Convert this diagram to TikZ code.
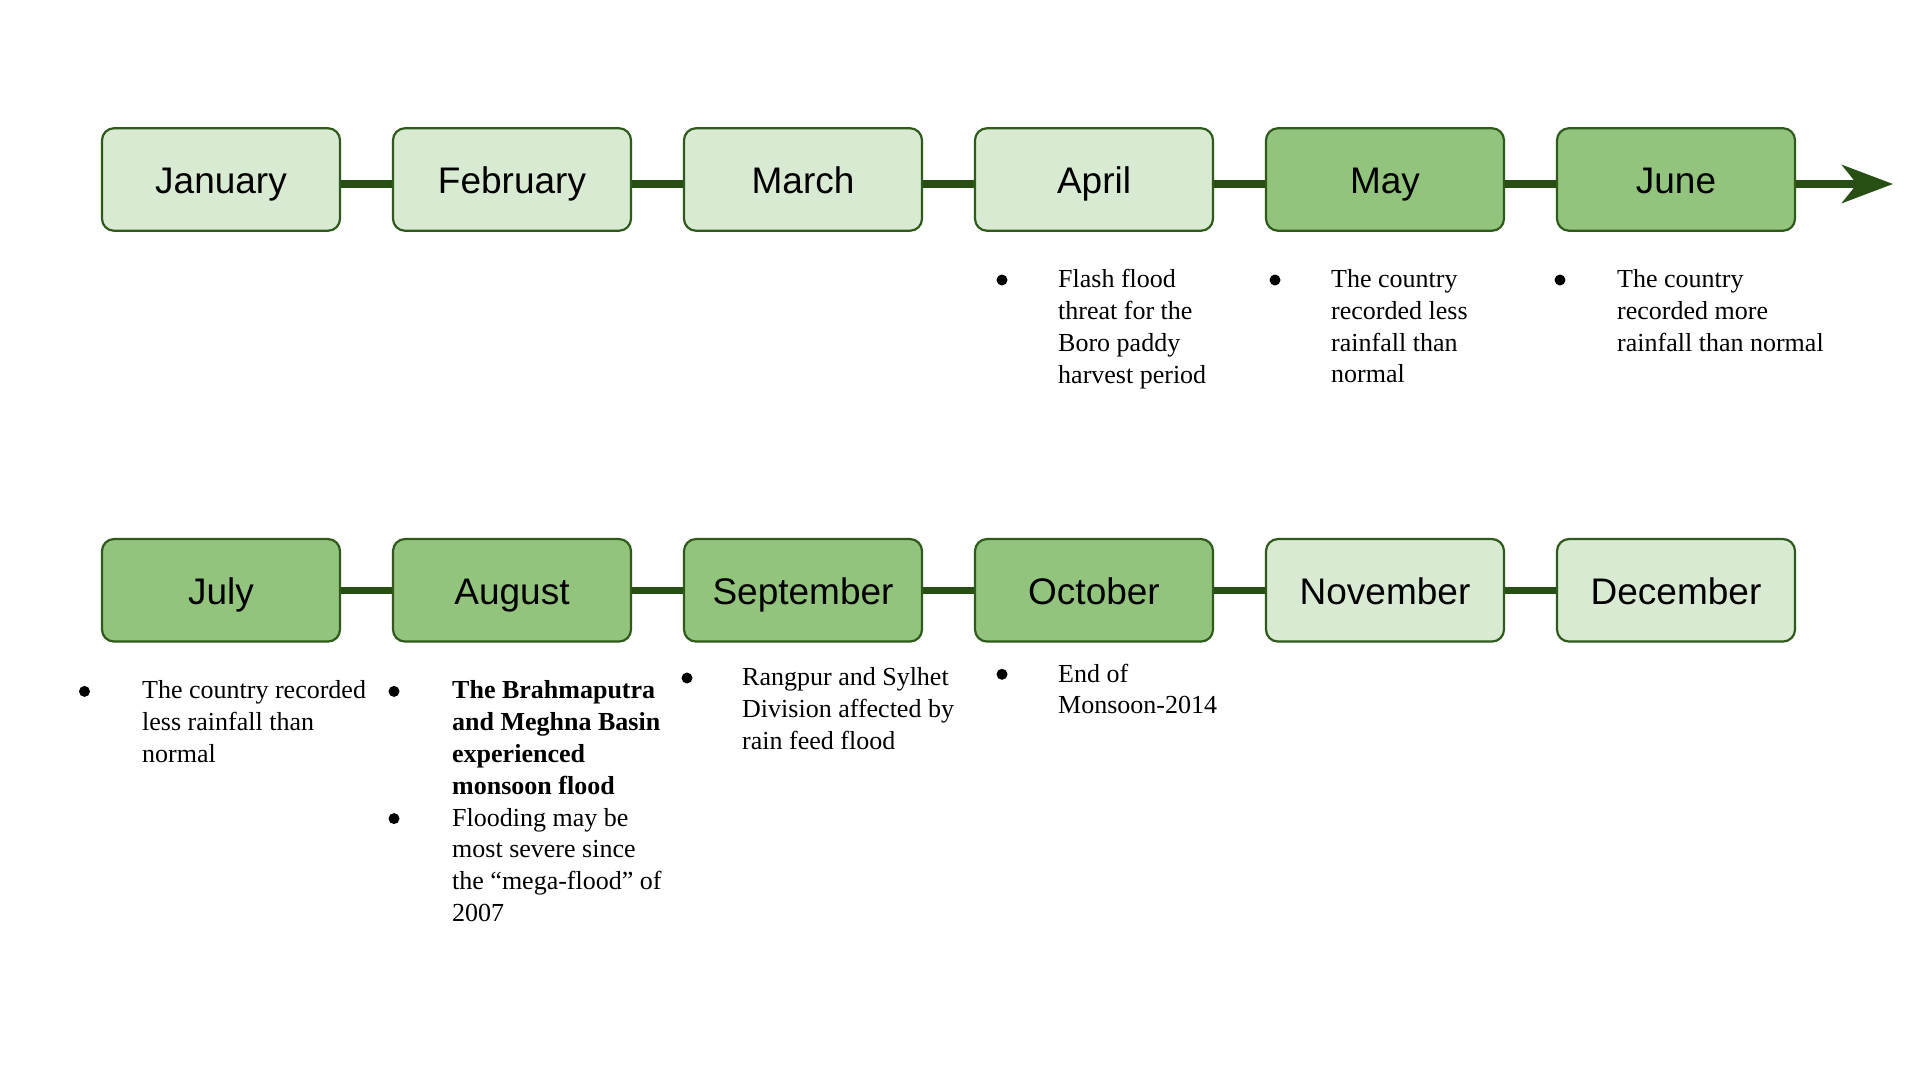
\documentclass[tikz,border=0pt]{standalone}
\usepackage{fontspec}
\setmainfont{Liberation Serif}
\newfontfamily\labelfont{Liberation Sans}
\usetikzlibrary{arrows.meta}
\definecolor{lightg}{HTML}{D9EAD3}
\definecolor{darkg}{HTML}{93C47D}
\definecolor{edgeg}{HTML}{2E5A1C}
\definecolor{lineg}{HTML}{274E13}
\tikzset{
  month/.style={draw=edgeg, line width=2.2pt, rounded corners=12pt,
    minimum width=238pt, minimum height=102.5pt, inner sep=0pt,
    text height=28pt, text depth=0pt,
    font=\labelfont\fontsize{37}{44}\selectfont},
  pale/.style={month, fill=lightg},
  deep/.style={month, fill=darkg},
  link/.style={draw=lineg, line width=7.5pt},
  note/.style={anchor=north west, inner sep=0pt, align=left,
    font=\fontsize{26}{31.8}\selectfont},
  dot/.style={circle, fill=black, inner sep=0pt, minimum size=11pt}
}
\begin{document}
\begin{tikzpicture}[x=1pt,y=-1pt]
\useasboundingbox[fill=white] (0,0) rectangle (1920,1080);
% top row
\node[pale] (jan) at (221,179.5) {January};
\node[pale] (feb) at (512,179.5) {February};
\node[pale] (mar) at (803,179.5) {March};
\node[pale] (apr) at (1094,179.5) {April};
\node[deep] (may) at (1385,179.5) {May};
\node[deep] (jun) at (1676,179.5) {June};
\coordinate (tip) at (1893,184);
\draw[link] ([yshift=-4.5pt]jan.east) -- ([yshift=-4.5pt]feb.west);
\draw[link] ([yshift=-4.5pt]feb.east) -- ([yshift=-4.5pt]mar.west);
\draw[link] ([yshift=-4.5pt]mar.east) -- ([yshift=-4.5pt]apr.west);
\draw[link] ([yshift=-4.5pt]apr.east) -- ([yshift=-4.5pt]may.west);
\draw[link] ([yshift=-4.5pt]may.east) -- ([yshift=-4.5pt]jun.west);
\draw[link, -{Stealth[length=51pt, width=38pt, inset=15pt]}] ([yshift=-4.5pt]jun.east) -- (tip);
% bottom row
\node[deep] (jul) at (221,590.3) {July};
\node[deep] (aug) at (512,590.3) {August};
\node[deep] (sep) at (803,590.3) {September};
\node[deep] (oct) at (1094,590.3) {October};
\node[pale] (nov) at (1385,590.3) {November};
\node[pale] (dec) at (1676,590.3) {December};
\draw[link] (jul) -- (aug);
\draw[link] (aug) -- (sep);
\draw[link] (sep) -- (oct);
\draw[link] (oct) -- (nov);
\draw[link] (nov) -- (dec);
% notes top row
\node[dot] (dapr) at (1002,280) {};
\node[note] (tapr) at (1058,269.2) {Flash flood\\threat for the\\Boro paddy\\harvest period};
\node[dot] (dmay) at (1275,280) {};
\node[note] (tmay) at (1331,269.2) {The country\\recorded less\\rainfall than\\normal};
\node[dot] (djun) at (1560,280) {};
\node[note] (tjun) at (1617,269.2) {The country\\recorded more\\rainfall than normal};
% notes bottom row
\node[dot] (djul) at (84.5,691.4) {};
\node[note] (tjul) at (142,680.6) {The country recorded\\less rainfall than\\normal};
\node[dot] (daug) at (394,691.4) {};
\node[note] (taug) at (452,680.6) {\bfseries The Brahmaputra\\\bfseries and Meghna Basin\\\bfseries experienced\\\bfseries monsoon flood};
\node[dot] (daug2) at (394,818.6) {};
\node[note] (taug2) at (452,807.8) {Flooding may be\\most severe since\\the “mega-flood” of\\2007};
\node[dot] (dsep) at (687,678) {};
\node[note] (tsep) at (742,667.2) {Rangpur and Sylhet\\Division affected by\\rain feed flood};
\node[dot] (doct) at (1002,674.3) {};
\node[note] (toct) at (1058,663.5) {End of\\Monsoon-2014};
\end{tikzpicture}
\end{document}
